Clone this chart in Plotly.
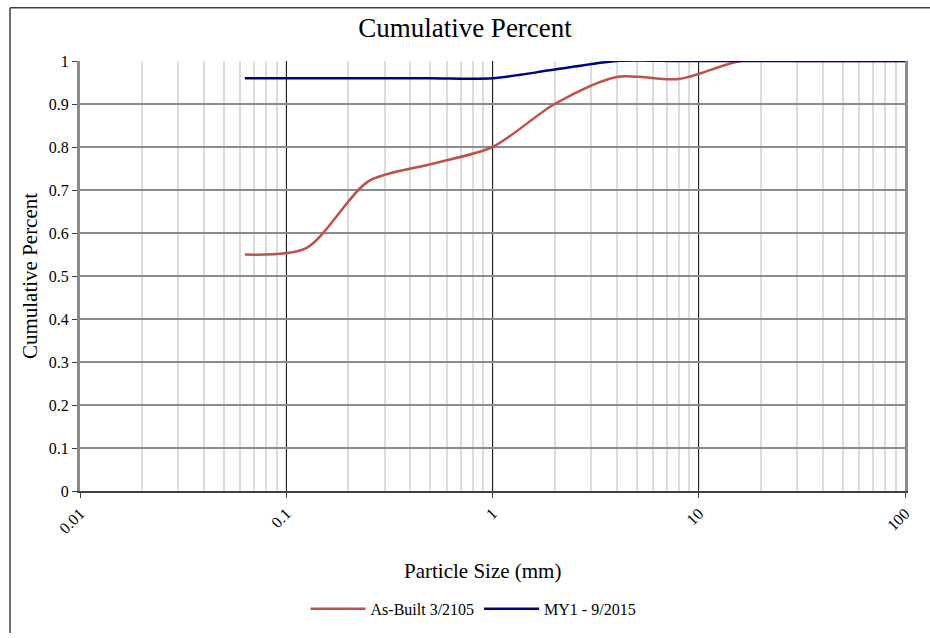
import plotly.graph_objects as go

# Sieve sizes (mm) and cumulative fraction passing
as_built_size = [0.063, 0.125, 0.25, 0.5, 1, 2, 4, 8, 16, 31.5, 63, 100]
as_built_pct = [0.55, 0.565, 0.72, 0.76, 0.80, 0.90, 0.963, 0.958, 1.0, 1.0, 1.0, 1.0]

my1_size = [0.063, 0.125, 0.25, 0.5, 1, 2, 4, 8, 16, 31.5, 63, 100]
my1_pct = [0.96, 0.96, 0.96, 0.96, 0.96, 0.98, 1.0, 1.0, 1.0, 1.0, 1.0, 1.0]

x_ticks = [0.01, 0.1, 1, 10, 100]
x_tick_text = ["0.01", "0.1", "1", "10", "100"]
y_ticks = [round(i * 0.1, 1) for i in range(11)]
y_tick_text = ["0", "0.1", "0.2", "0.3", "0.4", "0.5", "0.6", "0.7", "0.8", "0.9", "1"]

FONT = "Liberation Serif, Times New Roman, serif"

fig = go.Figure()
fig.add_trace(go.Scatter(
    x=as_built_size, y=as_built_pct, mode="lines", name="As-Built 3/2105",
    line=dict(color="#C0504D", width=2.5, shape="spline", smoothing=0.8),
))
fig.add_trace(go.Scatter(
    x=my1_size, y=my1_pct, mode="lines", name="MY1 - 9/2015",
    line=dict(color="#000080", width=2.5, shape="spline", smoothing=0.8),
))

# outer chart frame (left and top edges)
fig.add_shape(type="line", xref="paper", yref="paper",
              x0=-0.0848, x1=-0.0848, y0=1.124, y1=-0.33,
              line=dict(color="#404040", width=1.5), layer="below")
fig.add_shape(type="line", xref="paper", yref="paper",
              x0=-0.0848, x1=1.04, y0=1.124, y1=1.124,
              line=dict(color="#404040", width=1.5), layer="below")

# x-axis title
fig.add_annotation(text="Particle Size (mm)", xref="paper", yref="paper",
                   x=0.488, y=-0.186, xanchor="center", yanchor="middle",
                   showarrow=False, font=dict(size=21, family=FONT, color="black"))

fig.update_layout(
    width=930, height=638,
    margin=dict(l=80, r=25, t=61, b=142),
    paper_bgcolor="white", plot_bgcolor="white",
    font=dict(family=FONT, color="black", size=16),
    title=dict(text="Cumulative Percent", x=0.5, xanchor="center",
               y=0.957, yanchor="middle", font=dict(size=27, family=FONT)),
    showlegend=True,
    legend=dict(orientation="h", x=0.477, xanchor="center", y=-0.274, yanchor="middle",
                font=dict(size=16, family=FONT), itemwidth=55, tracegroupgap=0),
)

fig.update_xaxes(
    type="log", range=[-2, 2],
    tickvals=x_ticks, ticktext=x_tick_text, tickangle=-45,
    ticks="outside", ticklen=5, tickcolor="#404040",
    showgrid=True, gridcolor="#202020", gridwidth=1,
    minor=dict(dtick="D1", showgrid=True, gridcolor="#dcdcdc", gridwidth=1.5, ticks=""),
    showline=True, linecolor="#404040", linewidth=2,
    zeroline=False,
    tickfont=dict(size=16, family=FONT),
)
fig.update_yaxes(
    range=[0, 1], tickvals=y_ticks, ticktext=y_tick_text,
    ticks="outside", ticklen=5, tickcolor="#404040",
    showgrid=True, gridcolor="#8c8c8c", gridwidth=2,
    showline=True, linecolor="#8c8c8c", linewidth=3, mirror=True,
    zeroline=False,
    title=dict(text="Cumulative Percent", font=dict(size=21, family=FONT), standoff=6),
    tickfont=dict(size=16, family=FONT),
)

fig.write_html("out.html")
